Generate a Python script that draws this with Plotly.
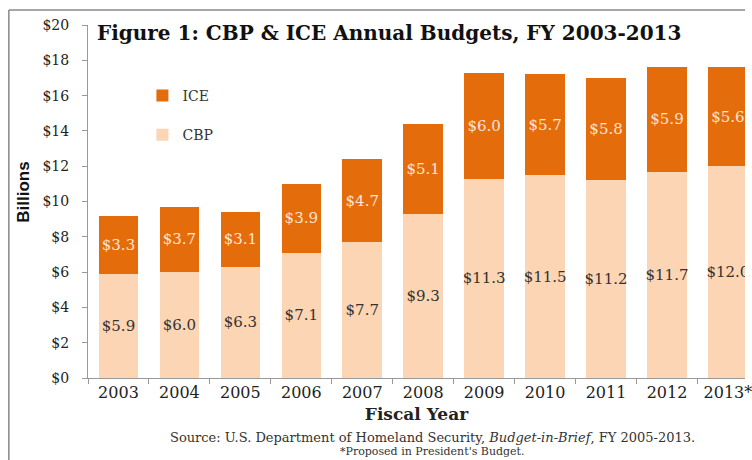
import plotly.graph_objects as go

years = ["2003", "2004", "2005", "2006", "2007", "2008", "2009", "2010", "2011", "2012", "2013*"]
cbp = [5.9, 6.0, 6.3, 7.1, 7.7, 9.3, 11.3, 11.5, 11.2, 11.7, 12.0]
ice = [3.3, 3.7, 3.1, 3.9, 4.7, 5.1, 6.0, 5.7, 5.8, 5.9, 5.6]
y_ticks = list(range(0, 21, 2))
y_tick_labels = [f"${v}" for v in y_ticks]

SERIF = "DejaVu Serif, serif"
ORANGE = "#E46C0A"
PEACH = "#FCD5B4"

fig = go.Figure()
fig.add_trace(go.Bar(
    x=years, y=cbp, name="CBP", marker=dict(color=PEACH, line=dict(width=0)),
    texttemplate="$%{y:.1f}", textposition="inside", insidetextanchor="middle",
    textangle=0, constraintext="none",
    textfont=dict(family=SERIF, size=15, color="#333333"),
    legendgroup="cbp", legendrank=2,
))
fig.add_trace(go.Bar(
    x=years, y=ice, name="ICE", marker=dict(color=ORANGE, line=dict(width=0)),
    texttemplate="$%{y:.1f}", textposition="inside", insidetextanchor="middle",
    textangle=0, constraintext="none",
    textfont=dict(family=SERIF, size=15, color="#FBE5D6"),
    legendgroup="ice", legendrank=1,
))

L, T, B = 88, 25, 82
W, H = 752, 460
pw, ph = W - L, H - T - B

def px(x):
    return (x - L) / pw

def py(y):
    return (H - B - y) / ph

fig.update_layout(
    width=W, height=H,
    margin=dict(l=L, r=0, t=T, b=B, pad=0),
    barmode="stack", bargap=0.35,
    plot_bgcolor="white", paper_bgcolor="white",
    font=dict(family=SERIF, color="#222222"),
    showlegend=True,
    legend=dict(
        x=px(143), y=py(80), xanchor="left", yanchor="top",
        traceorder="grouped", tracegroupgap=18,
        font=dict(family=SERIF, size=14, color="#333333"),
        bgcolor="rgba(0,0,0,0)", itemwidth=30,
    ),
    xaxis=dict(
        type="category", range=[-0.5, 10.28],
        tickson="boundaries", ticks="outside", ticklen=5, tickcolor="#999999",
        showline=True, linecolor="#999999", linewidth=1,
        tickfont=dict(family=SERIF, size=16, color="#222222"),
        title=dict(text="<b>Fiscal Year</b>", font=dict(family=SERIF, size=17, color="#222222"), standoff=6),
        showgrid=False,
    ),
    yaxis=dict(
        range=[0, 20], tickvals=y_ticks, ticktext=y_tick_labels,
        ticks="outside", ticklen=5, tickcolor="#999999",
        showline=True, linecolor="#999999", linewidth=1,
        tickfont=dict(family=SERIF, size=14, color="#222222"),
        ticklabelstandoff=10,
        showgrid=False, zeroline=False,
        title=None,
    ),
    annotations=[
        dict(text="<b>Figure 1: CBP & ICE Annual Budgets, FY 2003-2013</b>",
             xref="paper", yref="paper", x=px(95), y=py(33), xanchor="left", yanchor="middle",
             showarrow=False, font=dict(family=SERIF, size=20, color="#111111")),
        dict(text="<b>Billions</b>", xref="paper", yref="paper", x=px(22), y=py(192),
             xanchor="center", yanchor="middle", textangle=-90, showarrow=False,
             font=dict(family="Liberation Sans Narrow, Arial Narrow, sans-serif", size=17, color="#111111")),
        dict(text="Source: U.S. Department of Homeland Security, <i>Budget-in-Brief</i>, FY 2005-2013.",
             xref="paper", yref="paper", x=px(436), y=py(437), xanchor="center", yanchor="middle",
             showarrow=False, font=dict(family=SERIF, size=13, color="#333333")),
        dict(text="*Proposed in President's Budget.",
             xref="paper", yref="paper", x=px(436), y=py(451), xanchor="center", yanchor="middle",
             showarrow=False, font=dict(family=SERIF, size=11, color="#333333")),
    ],
    shapes=[
        dict(type="line", xref="paper", yref="paper", x0=px(8), x1=px(8), y0=py(460), y1=py(10),
             line=dict(color="#888888", width=1.5)),
        dict(type="line", xref="paper", yref="paper", x0=px(8), x1=px(752), y0=py(10), y1=py(10),
             line=dict(color="#888888", width=1.5)),
    ],
)

fig.write_html("out.html")
